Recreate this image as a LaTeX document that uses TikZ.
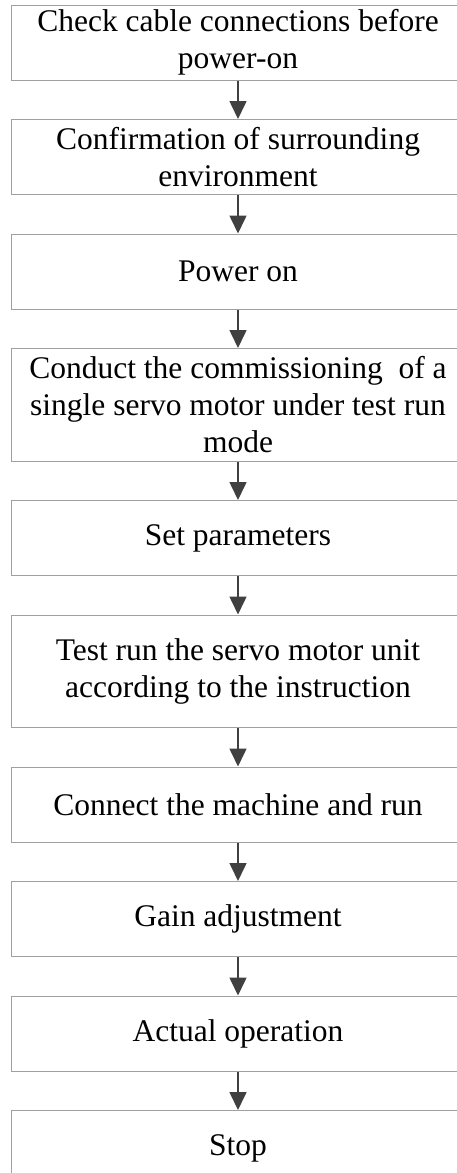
\documentclass[tikz,border=0pt]{standalone}
\usepackage{fontspec}
\setmainfont{Liberation Serif}
\usetikzlibrary{positioning,arrows.meta}
\definecolor{boxgray}{HTML}{A0A0A0}
\definecolor{arrowgray}{HTML}{404040}

\begin{document}
\begin{tikzpicture}[x=1pt,y=1pt,
		node distance=38.5pt,
		stepbox/.style={draw=boxgray,line width=1pt,minimum width=454pt,minimum height=75pt,
			inner sep=0pt,align=center,font=\fontsize{31.5}{37}\selectfont},
		tallbox/.style={stepbox,minimum height=112.5pt},
		flowarrow/.style={draw=arrowgray,line width=1.6pt,-{Triangle[width=17pt,length=18pt]}}]
		% 画布大小
		\useasboundingbox (0,0) rectangle (456,-1173);
		
		% 流程步骤
		\node[stepbox] (check) at (238,-42.5) {Check cable connections before\\power-on};
		\node[stepbox,below=of check] (env) {Confirmation of surrounding\\environment};
		\node[stepbox,below=of env] (power) {Power on};
		\node[tallbox,below=of power] (single) {Conduct the commissioning\ \ of a\\single servo motor under test run\\mode};
		\node[stepbox,below=of single] (param) {Set parameters};
		\node[tallbox,below=of param] (unit) {Test run the servo motor unit\\according to the instruction};
		\node[stepbox,below=of unit] (machine) {Connect the machine and run};
		\node[stepbox,below=of machine] (gain) {Gain adjustment};
		\node[stepbox,below=of gain] (actual) {Actual operation};
		\node[stepbox,below=of actual] (stop) {Stop};
		
		% 箭头
		\foreach \a/\b in {check/env,env/power,power/single,single/param,param/unit,
			unit/machine,machine/gain,gain/actual,actual/stop}
			\draw[flowarrow] (\a.south) -- (\b.north);
		
	\end{tikzpicture}
\end{document}
